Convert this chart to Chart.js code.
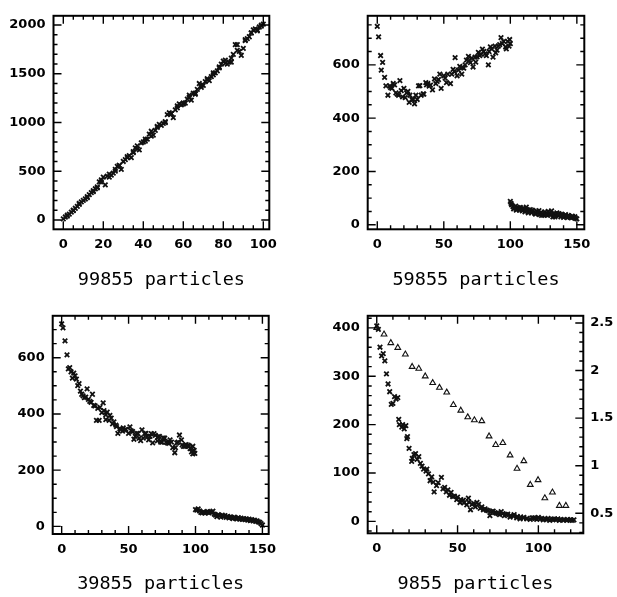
<!DOCTYPE html>
<html>
<head>
<meta charset="utf-8">
<script src="https://cdn.jsdelivr.net/npm/chart.js@4"></script>
<style>
  body { margin: 0; background: #fff; }
  #page { position: relative; width: 617px; height: 597px; overflow: hidden; background: #fff; }
  .panel { position: absolute; }
</style>
</head>
<body>
<div id="page">
  <div class="panel" style="left:0;top:0;width:300px;height:297px"><canvas id="c1"></canvas></div>
  <div class="panel" style="left:300px;top:0;width:317px;height:297px"><canvas id="c2"></canvas></div>
  <div class="panel" style="left:0;top:300px;width:300px;height:297px"><canvas id="c3"></canvas></div>
  <div class="panel" style="left:300px;top:300px;width:317px;height:297px"><canvas id="c4"></canvas></div>
</div>
<script>
// captions
var captions = ['99855 particles', '59855 particles', '39855 particles', '9855 particles'];

// tick labels
var p1XTicks = [0, 20, 40, 60, 80, 100];
var p1YTicks = [0, 500, 1000, 1500, 2000];
var p2XTicks = [0, 50, 100, 150];
var p2YTicks = [0, 200, 400, 600];
var p3XTicks = [0, 50, 100, 150];
var p3YTicks = [0, 200, 400, 600];
var p4XTicks = [0, 50, 100];
var p4YTicks = [0, 100, 200, 300, 400];
var p4Y2Ticks = [0.5, 1, 1.5, 2, 2.5];

// panel 1 : 99855 particles
var p1X = [0,1,2,3,4,5,6,7,8,9,10,11,12,13,14,15,16,17,18,19,20,21,22,23,24,25,26,27,28,29,30,
  31,32,33,34,35,36,37,38,39,40,41,42,43,44,45,46,47,48,49,50,51,52,53,54,55,56,57,58,59,60,
  61,62,63,64,65,66,67,68,69,70,71,72,73,74,75,76,77,78,79,80,81,82,83,84,85,86,87,88,89,90,
  91,92,93,94,95,96,97,98,99,100,
  2,5,8,12,15,17,19,23,26,28,32,35,37,41,44,47,51,54,57,60,63,66,69,72,75,78,81,84,87,91,94,97,99];
var p1Y = [10,30,50,60,80,95,120,140,160,185,200,215,240,260,280,300,320,340,390,410,440,360,450,440,460,480,500,550,560,520,600,
  620,650,660,640,700,740,760,720,790,800,810,830,880,910,870,920,960,980,970,990,1000,1080,1100,1090,1050,1130,1170,1190,1180,1190,
  1200,1240,1260,1230,1300,1290,1340,1400,1360,1380,1420,1450,1430,1470,1490,1510,1530,1570,1600,1630,1610,1600,1620,1660,1700,1800,1800,1730,1690,1760,
  1840,1860,1880,1920,1950,1960,1940,1980,1990,2010,
  40,100,170,230,290,330,390,470,520,560,640,690,730,830,860,950,1010,1090,1150,1200,1280,1300,1380,1440,1510,1560,1640,1620,1740,1850,1920,1950,2000];

// panel 2 : 59855 particles
var p2X = [0,1,2.5,3,4,5.5,6.5,8,9.5,11,12,14,16,17,18,20,21,22,24,24.5,27,28,29,31,33,34.5,36.5,38,40,41.5,
  43,45,47,48,50,52,55,56,57,58.5,60,62,63.5,65,67,68.5,70,72,73.5,76,77,79,81,83.5,85,87,88.5,90,92,93,95,96.5,98,99,
  10,13,15,19,23,26,30,32,35,37,39,44,46,51,53,58,61,64,66,69,71,74,75,78,80,82,84,86,89,91,94,97,100,99.5,
  100,101,102,103,104,105,106,107,108,109,110,111,112,113,114,115,116,117,118,119,120,121,122,123,124,125,
  126,127,128,129,130,131,132,133,134,135,136,137,138,139,140,141,142,143,144,145,146,147,148,149,150,
  100.5,102.5,104.5,107.5,109.5,111.5,113.5,116.5,118.5,121.5,123.5,126.5,128.5,131.5,133.5,136.5,138.5,141.5,143.5,146.5,148.5];
var p2Y = [744,705,635,580,609,553,521,486,521,512,530,495,486,541,503,512,477,495,459,486,471,454,486,521,486,491,533,530,524,506,
  547,538,565,512,559,533,530,565,583,627,559,594,565,588,618,632,608,592,629,647,635,659,641,600,667,629,670,655,676,702,688,667,688,670,
  515,525,490,480,500,470,470,522,490,525,520,530,545,550,565,575,580,590,600,615,625,610,630,640,650,635,650,660,645,670,680,660,680,695,
  88,75,68,62,70,58,64,55,60,52,58,48,66,55,50,57,45,52,48,40,50,44,38,46,42,36,
  48,40,35,44,38,52,30,42,36,45,33,38,30,36,28,34,31,27,33,29,26,30,27,24,22,
  80,60,55,65,62,57,45,55,42,53,35,38,50,40,30,42,40,38,35,32,30];

// panel 3 : 39855 particles
var p3X = [0,1,2.5,4,6,7,9,8,11,12,13,14,16,17,19,20,22,23,25,26,28,28.6,31,31.6,33,34,35.5,37,39,40.5,
  42,43.5,45.5,47,50,51,53,55,56,58,60,61,63,65,66,68,70,71.5,73,75,77,79,81,83,84.5,86,88,89.5,91,93,94.5,96,98,99,
  5,10,15,18,21,24,27,30,33,36,38,41,44,46,48,52,54,57,59,62,64,67,69,72,74,76,78,80,82,85,87,90,92,95,97,98,99.5,
  100,101,102,103,104,105,106,107,108,109,110,111,112,113,114,115,116,117,118,119,120,121,122,123,124,125,
  126,127,128,129,130,131,132,133,134,135,136,137,138,139,140,141,142,143,144,145,146,147,148,149,150];
var p3Y = [720,706,660,610,565,550,545,527,524,501,508,481,464,458,489,452,441,470,429,377,377,423,439,412,397,406,377,385,372,360,
  331,348,339,343,331,354,337,320,331,314,343,314,331,308,320,297,324,304,320,300,314,297,308,280,262,297,325,308,285,291,289,277,258,270,
  560,535,470,460,445,430,420,405,380,395,365,355,345,350,345,340,310,330,305,330,320,330,330,318,300,315,300,295,300,280,300,290,285,285,265,285,260,
  60,58,62,55,50,48,52,47,50,53,48,52,50,54,44,40,35,42,38,33,40,36,38,32,36,30,
  34,31,28,33,29,27,31,26,29,25,28,24,27,22,26,21,24,20,22,18,20,16,14,10,5];

// panel 4 : 9855 particles (crosses, left axis)
var p4X = [0,1,3,4,5,6,7,8,9,10,12,13,13.6,15.5,17,18,18.6,20,21.6,23,25,26,28,29,30.5,32,33,35,35.5,37,
  40,41,43,45,47,49.5,51.5,53.6,55.7,56.7,58,60,62,64,66,68,70,72,74,76,78,80,82.5,84.5,86.6,88.7,90.7,92.8,95,97,
  99,101,103,105,107,109,111,113,115.5,117.5,119.6,121,
  2,11,14,16,19,22,24,27,31,34,38,42,44,46,48,50,52,54,57,59,61,63,65,67,69,71,73,75,77,79,81,83,85,87,89,91,93,96,98,
  100,102,104,106,108,110,112,114,116,118,120,122];
var p4Y = [404,397,342,347,332,305,284,268,242,244,253,256,211,195,191,198,171,151,124,138,128,134,114,108,104,98,84,81,61,74,
  91,67,61,54,51,45,39,44,34,48,24,37,39,27,24,23,12,21,17,14,16,14,9,11,7,5,7,5,4,7,
  4,5,3,4,2,4,3,2,3,2,3,2,
  360,258,200,200,175,130,140,120,108,92,80,70,65,60,52,50,45,38,40,35,30,35,30,26,22,20,18,16,20,12,15,12,14,10,9,8,6,7,6,
  8,6,5,6,4,5,5,4,3,4,3,3];

// panel 4 : triangles, right axis
var p4TriX = [0,4.5,8.7,13,17.7,21.9,26,30,34.6,38.8,43.3,47.4,52,56.3,60.4,65,69.5,73.6,78,82.5,86.8,91,95,99.8,104,108.7,113,117];
var p4TriY = [2.45,2.38,2.29,2.24,2.17,2.04,2.02,1.94,1.87,1.82,1.77,1.64,1.58,1.51,1.48,1.47,1.31,1.22,1.24,1.11,0.97,1.05,0.80,0.85,0.66,0.72,0.58,0.58];

function pts(xs, ys) {
  return xs.map(function (x, i) { return { x: x, y: ys[i] }; });
}

// 안쪽으로 향하는 눈금과 테두리
var frameTicks = {
  id: 'frameTicks',
  afterDraw: function (chart, args, opts) {
    var ctx = chart.ctx, a = chart.chartArea;
    ctx.save();
    ctx.strokeStyle = '#000';
    ctx.lineWidth = 1.4;
    opts.marks.forEach(function (m) {
      var s = chart.scales[m.axis];
      var k0 = Math.ceil(s.min / m.minor - 1e-9), k1 = Math.floor(s.max / m.minor + 1e-9);
      ctx.beginPath();
      for (var k = k0; k <= k1; k++) {
        var v = k * m.minor;
        var r = v / m.major;
        var len = Math.abs(r - Math.round(r)) < 1e-6 ? 8 : 4;
        var p = s.getPixelForValue(v);
        m.sides.forEach(function (side) {
          if (side === 'bottom') { ctx.moveTo(p, a.bottom); ctx.lineTo(p, a.bottom - len); }
          if (side === 'top') { ctx.moveTo(p, a.top); ctx.lineTo(p, a.top + len); }
          if (side === 'left') { ctx.moveTo(a.left, p); ctx.lineTo(a.left + len, p); }
          if (side === 'right') { ctx.moveTo(a.right, p); ctx.lineTo(a.right - len, p); }
        });
      }
      ctx.stroke();
    });
    ctx.lineWidth = 2;
    ctx.strokeRect(a.left, a.top, a.right - a.left, a.bottom - a.top);
    ctx.restore();
  }
};

var tickFont = { family: 'DejaVu Sans', size: 13, weight: 'bold' };
var capFont = { family: 'DejaVu Sans Mono', size: 18.5 };

function axis(opt) {
  var o = {
    type: 'linear',
    position: opt.position,
    min: opt.min,
    max: opt.max,
    grid: { display: false, drawTicks: false },
    border: { display: false },
    afterBuildTicks: function (s) { s.ticks = opt.ticks.map(function (v) { return { value: v }; }); },
    afterFit: function (s) {
      if (opt.position === 'bottom') s.height = opt.size; else s.width = opt.size;
    },
    ticks: {
      font: tickFont,
      color: '#000',
      padding: opt.pad,
      maxRotation: 0,
      autoSkip: false,
      callback: function (v) { return String(v); }
    }
  };
  if (opt.caption) {
    o.title = { display: true, text: opt.caption, font: capFont, color: '#000', padding: { top: 0, bottom: opt.capPad } };
  }
  return o;
}

function crossSet(data, yAxisID) {
  return {
    data: data,
    yAxisID: yAxisID || 'y',
    pointStyle: 'crossRot',
    pointRadius: 3.2,
    borderWidth: 1.8,
    borderColor: '#111',
    backgroundColor: '#111',
    showLine: false
  };
}

function makeChart(id, cfg) {
  return new Chart(document.getElementById(id), {
    type: 'scatter',
    data: { datasets: cfg.sets },
    options: {
      responsive: true,
      maintainAspectRatio: false,
      animation: false,
      events: [],
      layout: { padding: { top: cfg.top, right: cfg.right, left: 0, bottom: 0 } },
      plugins: { legend: { display: false }, tooltip: { enabled: false }, frameTicks: { marks: cfg.marks } },
      scales: cfg.scales
    },
    plugins: [frameTicks]
  });
}

makeChart('c1', {
  top: 5.7, right: 30.7,
  sets: [crossSet(pts(p1X, p1Y))],
  scales: {
    x: axis({ position: 'bottom', min: -4.9, max: 103, ticks: p1XTicks, size: 67.7, pad: 8, caption: captions[0], capPad: 6 }),
    y: axis({ position: 'left', min: -96, max: 2095, ticks: p1YTicks, size: 53.5, pad: 8 })
  },
  marks: [
    { axis: 'x', minor: 5, major: 20, sides: ['bottom', 'top'] },
    { axis: 'y', minor: 100, major: 500, sides: ['left', 'right'] }
  ]
});

makeChart('c2', {
  top: 4.7, right: 32.7,
  sets: [crossSet(pts(p2X, p2Y))],
  scales: {
    x: axis({ position: 'bottom', min: -7.2, max: 155.6, ticks: p2XTicks, size: 67.7, pad: 8, caption: captions[1], capPad: 6 }),
    y: axis({ position: 'left', min: -17, max: 784, ticks: p2YTicks, size: 67.7, pad: 8 })
  },
  marks: [
    { axis: 'x', minor: 10, major: 50, sides: ['bottom', 'top'] },
    { axis: 'y', minor: 50, major: 200, sides: ['left', 'right'] }
  ]
});

makeChart('c3', {
  top: 10, right: 31.3,
  sets: [crossSet(pts(p3X, p3Y))],
  scales: {
    x: axis({ position: 'bottom', min: -6.7, max: 154.7, ticks: p3XTicks, size: 63, pad: 8, caption: captions[2], capPad: 1.4 }),
    y: axis({ position: 'left', min: -27, max: 749, ticks: p3YTicks, size: 52.7, pad: 8 })
  },
  marks: [
    { axis: 'x', minor: 10, major: 50, sides: ['bottom', 'top'] },
    { axis: 'y', minor: 50, major: 200, sides: ['left', 'right'] }
  ]
});

makeChart('c4', {
  top: 9.3, right: 0,
  sets: [
    crossSet(pts(p4X, p4Y)),
    {
      data: pts(p4TriX, p4TriY),
      yAxisID: 'y2',
      pointStyle: 'triangle',
      pointRadius: 3.3,
      borderWidth: 1.1,
      borderColor: '#111',
      backgroundColor: 'rgba(0,0,0,0)',
      showLine: false
    }
  ],
  scales: {
    x: axis({ position: 'bottom', min: -5.6, max: 127.8, ticks: p4XTicks, size: 63.7, pad: 8, caption: captions[3], capPad: 1.4 }),
    y: axis({ position: 'left', min: -24.7, max: 425, ticks: p4YTicks, size: 67.7, pad: 8 }),
    y2: axis({ position: 'right', min: 0.29, max: 2.575, ticks: p4Y2Ticks, size: 33.7, pad: 7 })
  },
  marks: [
    { axis: 'x', minor: 10, major: 50, sides: ['bottom', 'top'] },
    { axis: 'y', minor: 20, major: 100, sides: ['left'] },
    { axis: 'y2', minor: 0.1, major: 0.5, sides: ['right'] }
  ]
});
</script>
</body>
</html>
